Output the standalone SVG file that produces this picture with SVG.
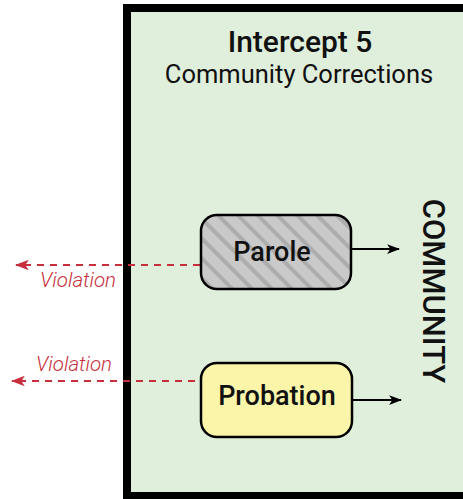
<svg xmlns="http://www.w3.org/2000/svg" width="463" height="499" viewBox="0 0 463 499">
<style>
text{font-family:Roboto,"Liberation Sans",sans-serif}
.node{stroke:#000;stroke-width:2.5}
.lbl{font-size:27px;font-weight:500;text-anchor:middle;fill:#111}
.flow{stroke:#000;stroke-width:2;fill:none}
.viol{stroke:#c62f3b;stroke-width:2;stroke-dasharray:7,6;fill:none}
.vtext{fill:#c62f3b;font-size:20.5px;font-style:italic;font-weight:300}
</style>
<defs>
<pattern id="hatch" width="14" height="14" patternUnits="userSpaceOnUse" patternTransform="rotate(-45)">
<rect width="14" height="14" fill="#c9c9c9"/>
<rect x="0" width="4" height="14" fill="#adadad"/>
</pattern>
<marker id="ab" viewBox="0 0 12 10" refX="11" refY="5" markerWidth="13" markerHeight="11" orient="auto" markerUnits="userSpaceOnUse">
<path d="M0,0.5 L12,5 L0,9.5 L3,5 Z" fill="#000"/>
</marker>
<marker id="ar" viewBox="0 0 12 10" refX="11" refY="5" markerWidth="14" markerHeight="12" orient="auto" markerUnits="userSpaceOnUse">
<path d="M0,0.5 L12,5 L0,9.5 L3,5 Z" fill="#c62f3b"/>
</marker>
</defs>
<g id="frame">
<rect x="127" y="8" width="345" height="488" fill="#e0efdc" stroke="#000" stroke-width="8"/>
<text x="300" y="52" font-size="30" font-weight="500" text-anchor="middle" fill="#111">Intercept 5</text>
<text x="299" y="83" font-size="25.5" text-anchor="middle" fill="#111">Community Corrections</text>
<text transform="translate(423,291) rotate(90)" font-size="31" font-weight="500" text-anchor="middle" fill="#111">COMMUNITY</text>
</g>
<g id="connectors">
<line class="flow" x1="352" y1="249" x2="399" y2="249" marker-end="url(#ab)"/>
<line class="flow" x1="353" y1="400" x2="401" y2="400" marker-end="url(#ab)"/>
<line class="viol" x1="200" y1="265" x2="16" y2="265" marker-end="url(#ar)"/>
<text class="vtext" x="116" y="287" text-anchor="end">Violation</text>
<line class="viol" x1="195" y1="381" x2="12" y2="381" marker-end="url(#ar)"/>
<text class="vtext" x="112" y="371" text-anchor="end">Violation</text>
</g>
<g id="parole">
<rect class="node" x="201" y="215" width="150" height="74" rx="16" fill="url(#hatch)"/>
<text class="lbl" x="272" y="261">Parole</text>
</g>
<g id="probation">
<rect class="node" x="201" y="363" width="151" height="74" rx="16" fill="#fbf5a9"/>
<text class="lbl" x="277" y="405">Probation</text>
</g>
</svg>
